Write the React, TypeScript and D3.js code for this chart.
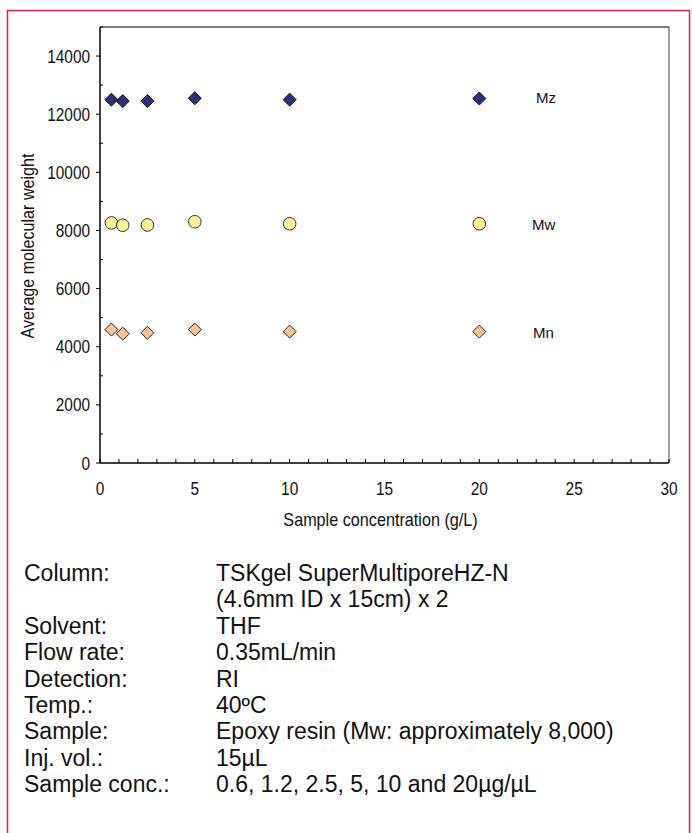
import React from "react";
import * as d3 from "d3";

const concentrations = [0.6, 1.2, 2.5, 5, 10, 20];
const mzValues = [12500, 12450, 12450, 12550, 12500, 12540];
const mwValues = [8260, 8180, 8190, 8300, 8230, 8230];
const mnValues = [4590, 4450, 4480, 4590, 4520, 4520];

const xTicks = [0, 5, 10, 15, 20, 25, 30];
const yTicks = [0, 2000, 4000, 6000, 8000, 10000, 12000, 14000];

const seriesLabels = ["Mz", "Mw", "Mn"];

const infoLabels = ["Column:", "", "Solvent:", "Flow rate:", "Detection:", "Temp.:", "Sample:", "Inj. vol.:", "Sample conc.:"];
const infoValues = [
  "TSKgel SuperMultiporeHZ-N",
  "(4.6mm ID x 15cm) x 2",
  "THF",
  "0.35mL/min",
  "RI",
  "40\u00baC",
  "Epoxy resin (Mw: approximately 8,000)",
  "15\u00b5L",
  "0.6, 1.2, 2.5, 5, 10 and 20\u00b5g/\u00b5L",
];

const W = 692;
const H = 833;
const PL = 100, PR = 669, PT = 27, PB = 463;
const SANS = "'Liberation Sans', Arial, sans-serif";

const COLORS = {
  mz: "#2b2f78",
  mw: "#fbf39a",
  mn: "#fbc495",
  frame: "#e3203f",
};

function diamond(cx: number, cy: number, r: number) {
  return `M${cx},${cy - r}L${cx + r},${cy}L${cx},${cy + r}L${cx - r},${cy}Z`;
}

export default function App() {
  const x = d3.scaleLinear().domain([0, 30]).range([PL, PR]);
  const y = d3.scaleLinear().domain([0, 15000]).range([PB, PT]);
  const minorX = d3.range(0, 31, 1);
  const minorY = d3.range(0, 15001, 1000);

  const labelPos = [
    { x: 536, y: 103 },
    { x: 532, y: 230 },
    { x: 533, y: 338 },
  ];

  return (
    <div style={{ position: "absolute", left: 0, top: 0 }}>
      <svg width={W} height={H} style={{ display: "block", background: "#fff" }}>
        <rect x={7.5} y={10.5} width={682} height={H + 20} fill="none" stroke={COLORS.frame} strokeWidth={1.5} />

        {/* plot frame */}
        <line x1={PL} x2={PR} y1={PT} y2={PT} stroke="#000" strokeWidth={1} />
        <line x1={PR} x2={PR} y1={PT} y2={PB} stroke="#444" strokeWidth={1} />
        <line x1={PL} x2={PL} y1={PT} y2={PB} stroke="#000" strokeWidth={1.5} />
        <line x1={PL} x2={PR} y1={PB} y2={PB} stroke="#000" strokeWidth={1.5} />

        {/* x ticks */}
        {minorX.map((t) => (
          <line key={"xt" + t} x1={x(t)} x2={x(t)} y1={PB} y2={PB - 4} stroke="#000" strokeWidth={1} />
        ))}
        {xTicks.map((t) => (
          <text
            key={"xl" + t}
            transform={`translate(${x(t)},494.5) scale(0.88,1)`}
            textAnchor="middle"
            fontFamily={SANS}
            fontSize={17.5}
            fill="#111"
          >
            {t}
          </text>
        ))}
        <text
          transform={`translate(${(PL + PR) / 2 - 4},526) scale(0.9,1)`}
          textAnchor="middle"
          fontFamily={SANS}
          fontSize={18}
          fill="#111"
        >
          Sample concentration (g/L)
        </text>

        {/* y ticks */}
        {minorY.map((t) => (
          <line
            key={"yt" + t}
            x1={PL}
            x2={t % 2000 === 0 ? PL - 4 : PL + 3}
            y1={y(t)}
            y2={y(t)}
            stroke="#000"
            strokeWidth={1}
          />
        ))}
        {yTicks.map((t) => (
          <text
            key={"yl" + t}
            transform={`translate(90,${y(t) + 6.5}) scale(0.88,1)`}
            textAnchor="end"
            fontFamily={SANS}
            fontSize={17.5}
            fill="#111"
          >
            {t}
          </text>
        ))}
        <text transform={`translate(34,246) rotate(-90) scale(0.92,1)`} textAnchor="middle" fontFamily={SANS} fontSize={17.5} fill="#111">
          Average molecular weight
        </text>

        {/* data */}
        {concentrations.map((c, i) => (
          <path key={"mz" + i} d={diamond(x(c), y(mzValues[i]), 6.5)} fill={COLORS.mz} stroke="#111" strokeWidth={1} />
        ))}
        {concentrations.map((c, i) => (
          <circle key={"mw" + i} cx={x(c)} cy={y(mwValues[i])} r={6.3} fill={COLORS.mw} stroke="#333" strokeWidth={1} />
        ))}
        {concentrations.map((c, i) => (
          <path key={"mn" + i} d={diamond(x(c), y(mnValues[i]), 6.5)} fill={COLORS.mn} stroke="#222" strokeWidth={1} />
        ))}

        {/* series labels */}
        {seriesLabels.map((l, i) => (
          <text key={l} x={labelPos[i].x} y={labelPos[i].y} fontFamily={SANS} fontSize={15} fill="#111">
            {l}
          </text>
        ))}

        {/* info */}
        {infoLabels.map((l, i) => (
          <text key={"il" + i} x={24} y={581 + i * 26.4} fontFamily={SANS} fontSize={23} fill="#111">
            {l}
          </text>
        ))}
        {infoValues.map((v, i) => (
          <text key={"iv" + i} x={216} y={581 + i * 26.4} fontFamily={SANS} fontSize={23} fill="#111">
            {v}
          </text>
        ))}
      </svg>
    </div>
  );
}
